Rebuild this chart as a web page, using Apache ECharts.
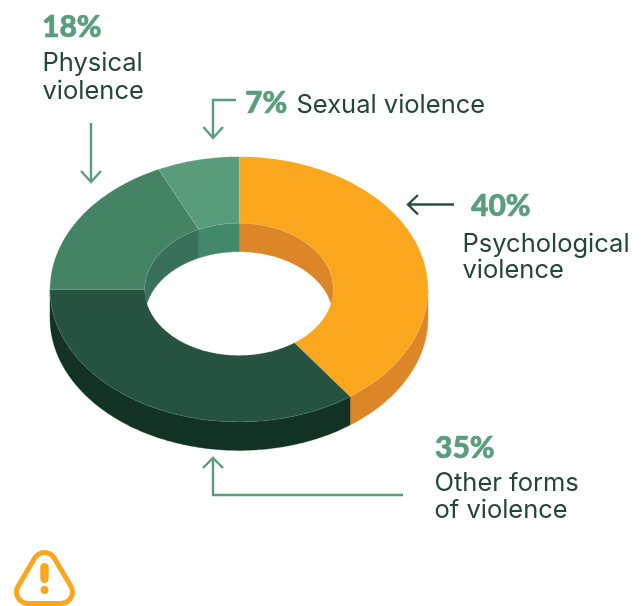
<!DOCTYPE html>
<html>
<head>
<meta charset="utf-8">
<style>html,body{margin:0;padding:0;background:#fff}#chart{width:643px;height:606px}</style>
<script src="https://cdn.jsdelivr.net/npm/echarts@6/dist/echarts.min.js"></script>
</head>
<body>
<div id="chart"></div>
<script>
// Forms of violence, share of reported cases (%), clockwise from 12 o'clock
const categories = ['Psychological violence', 'Other forms of violence', 'Physical violence', 'Sexual violence'];
const shares = [40, 35, 18, 7];
const topColors = ['#FAA71E', '#265240', '#448464', '#589C7B'];
const outerWallColors = ['#DC8628', '#123324', '#37705A', '#418769'];
const innerWallColors = ['#DC8628', '#123324', '#38705A', '#42886A'];

// Tilted ring geometry
const CX = 239, CY = 289.3, RX = 189, RY = 132.6, INNER = 0.4985, DEPTH = 28.5;
const TEXT_DARK = '#24453A', ACCENT = '#5A9D7C', WARN = '#FAA71E';

const total = shares.reduce((a, b) => a + b, 0);
const sliceRange = (i) => {
  const before = shares.slice(0, i).reduce((a, b) => a + b, 0);
  const toAngle = (v) => (v / total) * 2 * Math.PI - Math.PI / 2;
  return [toAngle(before), toAngle(before + shares[i])];
};
const onEllipse = (a, rx, ry, dy) => [CX + rx * Math.cos(a), CY + ry * Math.sin(a) + dy];
const arcPoints = (a0, a1, rx, ry, dy) => {
  const steps = Math.max(2, Math.ceil(Math.abs(a1 - a0) / 0.01));
  const pts = [];
  for (let k = 0; k <= steps; k++) pts.push(onEllipse(a0 + (a1 - a0) * k / steps, rx, ry, dy));
  return pts;
};

// Wall between the upper and lower rim, limited to the visible half of the ring
function wallItem(i, rx, ry, lo, hi, color) {
  const [a0, a1] = sliceRange(i);
  const shapes = [];
  for (const turn of [-2 * Math.PI, 0, 2 * Math.PI]) {
    const s = Math.max(a0, lo + turn), e = Math.min(a1, hi + turn);
    if (e <= s) continue;
    const points = arcPoints(s, e, rx, ry, 0).concat(arcPoints(e, s, rx, ry, DEPTH));
    shapes.push({ type: 'polygon', shape: { points }, style: { fill: color, stroke: color, lineWidth: 0.4 } });
  }
  return { type: 'group', children: shapes };
}

const renderOuterWall = (p) => wallItem(p.dataIndex, RX, RY, 0, Math.PI, outerWallColors[p.dataIndex]);
const renderInnerWall = (p) => wallItem(p.dataIndex, RX * INNER, RY * INNER, Math.PI, 2 * Math.PI, innerWallColors[p.dataIndex]);
const renderTop = (p) => {
  const [a0, a1] = sliceRange(p.dataIndex);
  const points = arcPoints(a0, a1, RX, RY, 0).concat(arcPoints(a1, a0, RX * INNER, RY * INNER, 0));
  return { type: 'polygon', shape: { points },
    style: { fill: topColors[p.dataIndex], stroke: 'rgba(255,255,255,0.22)', lineWidth: 0.5 } };
};

const customSeries = (renderItem, z, data) => ({
  type: 'custom', coordinateSystem: 'none', silent: true, animation: false, z,
  data, renderItem, clip: false
});

// Text is placed by its baseline; the ascent converts that to the top of the line box
const baselineText = (x, y, ascent, text, family, weight, size, fill, extra) => ({
  type: 'text', x, y: y - ascent,
  style: Object.assign({ text, fill, fontFamily: family, fontWeight: weight, fontSize: size, align: 'left', verticalAlign: 'top' }, extra)
});
const valueText = (x, y, v) => baselineText(x, y, 24.2, v + '%', 'Lato', 900, 30, ACCENT, { stroke: ACCENT, lineWidth: 0.6 });
const bodyText = (x, y, t) => baselineText(x - 0.5, y, 20.6, t, 'Inter', 400, 25.5, TEXT_DARK);
const stroke = (d, color) => ({
  type: 'path', shape: { pathData: d },
  style: { fill: 'none', stroke: color || ACCENT, lineWidth: 2.4 }
});

const renderAnnotations = () => ({
  type: 'group',
  children: [
    valueText(42, 37, shares[2]),
    bodyText(43, 71, 'Physical'), bodyText(43, 99, 'violence'),
    stroke('M91 123 L91 182 M81 171 L91 182 L101 171'),

    valueText(245, 113, shares[3]),
    bodyText(297, 113, 'Sexual violence'),
    stroke('M236 100 L213 100 L213 138 M203.5 127 L213 138 L223 127'),

    valueText(471, 216, shares[0]),
    bodyText(463, 252, 'Psychological'), bodyText(463, 278, 'violence'),
    stroke('M454 204.5 L408 204.5 M418 195 L408 204.5 L418 214.5', '#265240'),

    valueText(435, 458, shares[1]),
    bodyText(435, 491, 'Other forms'), bodyText(435, 518, 'of violence'),
    stroke('M403 495 L213 495 L213 458 M203 468 L213 458 L223 468'),

    // Warning sign
    { type: 'path',
      shape: { pathData: 'M34.6 558.2 L18.1 586.2 A11.5 11.5 0 0 0 28 603.5 L61 603.5 A11.5 11.5 0 0 0 70.9 586.2 L54.4 558.2 A11.5 11.5 0 0 0 34.6 558.2 Z' },
      style: { fill: 'none', stroke: WARN, lineWidth: 5 } },
    { type: 'rect', shape: { x: 40.3, y: 563, width: 8.4, height: 20, r: 4.2 }, style: { fill: WARN } },
    { type: 'circle', shape: { cx: 44.5, cy: 590, r: 4 }, style: { fill: WARN } }
  ]
});

const chart = echarts.init(document.getElementById('chart'), null, { renderer: 'canvas' });
chart.setOption({
  animation: false,
  backgroundColor: '#fff',
  series: [
    customSeries(renderInnerWall, 1, shares),
    customSeries(renderOuterWall, 2, shares),
    customSeries(renderTop, 3, shares),
    customSeries(renderAnnotations, 4, [0])
  ]
});
</script>
</body>
</html>
